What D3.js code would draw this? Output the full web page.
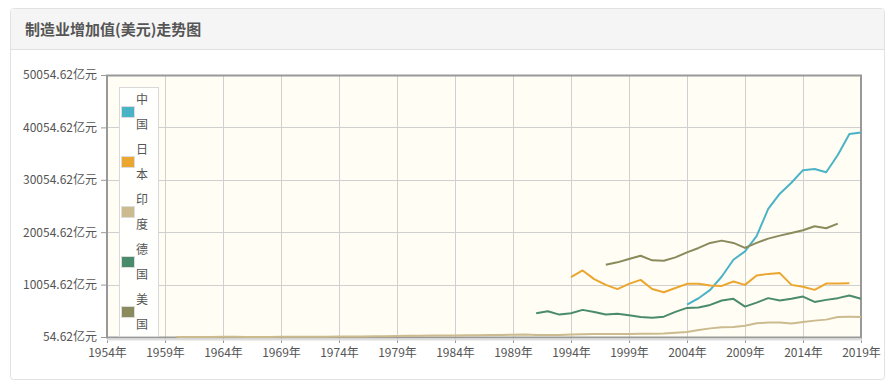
<!DOCTYPE html>
<html>
<head>
<meta charset="utf-8">
<script src="https://cdn.jsdelivr.net/npm/d3@7"></script>
<style>
  body { margin: 0; background: #fff; font-family: "Microsoft YaHei", "Noto Sans CJK SC", sans-serif; }
  svg { display: block; }
</style>
</head>
<body>
<svg id="chart" width="894" height="389"></svg>
<script>
const title = '制造业增加值(美元)走势图';
const countries = ['中国', '日本', '印度', '德国', '美国'];
const colors = ['#4bb3c6', '#eba630', '#cbbb8e', '#4a8b6c', '#898b5c'];
const startYears = [2004, 1994, 1960, 1991, 1997];

const china = [6250, 7450, 9050, 11600, 14800, 16400, 19300, 24500, 27400, 29500, 31900, 32100, 31500, 34800, 38800, 39100];
const japan = [11500, 12750, 11100, 10000, 9200, 10200, 10950, 9200, 8600, 9400, 10200, 10200, 9900, 9800, 10650, 10000, 11800, 12100, 12250, 10000, 9650, 9050, 10250, 10250, 10300];
const india = [56, 60, 64, 72, 84, 86, 70, 73, 78, 85, 92, 99, 103, 118, 144, 158, 163, 182, 213, 234, 290, 310, 320, 340, 345, 380, 400, 430, 460, 470, 510, 430, 450, 440, 520, 600, 620, 640, 620, 650, 690, 680, 720, 850, 1010, 1390, 1700, 1910, 1970, 2220, 2670, 2800, 2800, 2610, 2920, 3180, 3370, 3880, 3900, 3890];
const germany = [4600, 4980, 4330, 4600, 5230, 4840, 4330, 4470, 4200, 3880, 3750, 3940, 4840, 5610, 5680, 6180, 7010, 7340, 5860, 6620, 7470, 7010, 7340, 7770, 6750, 7140, 7470, 7970, 7340];
const usa = [13850, 14300, 14950, 15570, 14680, 14610, 15250, 16200, 17050, 18010, 18450, 18010, 17050, 18010, 18830, 19400, 19900, 20420, 21190, 20800, 21700];
const series = [china, japan, india, germany, usa];

const yearTicks = d3.range(1954, 2020, 5);
const valueTicks = [54.62, 10054.62, 20054.62, 30054.62, 40054.62, 50054.62];

const svg = d3.select('#chart');

// panel
svg.append('rect')
  .attr('x', 10.5).attr('y', 8.5).attr('width', 874).attr('height', 371)
  .attr('rx', 3).attr('fill', '#fff').attr('stroke', '#e2e2e2');
svg.append('rect')
  .attr('x', 11).attr('y', 9).attr('width', 873).attr('height', 40)
  .attr('fill', '#f5f5f6');
svg.append('line')
  .attr('x1', 11).attr('x2', 884).attr('y1', 49.5).attr('y2', 49.5)
  .attr('stroke', '#e0e0e0');
svg.append('text')
  .attr('x', 25).attr('y', 35)
  .attr('font-size', 15).attr('font-weight', 'bold').attr('fill', '#555')
  .text(title);

const x = d3.scaleLinear().domain([1954, 2019]).range([107, 861]);
const y = d3.scaleLinear().domain([54.62, 50054.62]).range([337, 75]);

// plot background
svg.append('rect')
  .attr('x', 107).attr('y', 75).attr('width', 754).attr('height', 262)
  .attr('fill', '#fffdf4');

// grid
svg.append('g').selectAll('line').data(yearTicks.slice(1)).join('line')
  .attr('x1', d => x(d) + 0.5).attr('x2', d => x(d) + 0.5)
  .attr('y1', 75).attr('y2', 337)
  .attr('stroke', '#d0d0d0');
svg.append('g').selectAll('line').data(valueTicks.slice(1, -1)).join('line')
  .attr('x1', 107).attr('x2', 861)
  .attr('y1', d => Math.round(y(d)) + 0.5).attr('y2', d => Math.round(y(d)) + 0.5)
  .attr('stroke', '#d0d0d0');

// axes
const yAxis = svg.append('g')
  .attr('transform', 'translate(106,0)')
  .call(d3.axisLeft(y).tickValues(valueTicks).tickSize(5).tickPadding(4)
    .tickFormat(d => d3.format('.2f')(d) + '亿元'));
yAxis.select('.domain').remove();
yAxis.selectAll('line').attr('stroke', '#999');
yAxis.selectAll('text').attr('font-size', 12).attr('fill', '#555')
  .attr('font-family', '"Microsoft YaHei", "Noto Sans CJK SC", sans-serif');

const xAxis = svg.append('g')
  .attr('transform', 'translate(0,338)')
  .call(d3.axisBottom(x).tickValues(yearTicks).tickSize(5).tickPadding(5)
    .tickFormat(d => d + '年'));
xAxis.select('.domain').remove();
xAxis.selectAll('line').attr('stroke', '#999');
xAxis.selectAll('text').attr('font-size', 12).attr('fill', '#555')
  .attr('font-family', '"Microsoft YaHei", "Noto Sans CJK SC", sans-serif');

// frame
svg.append('rect')
  .attr('x', 107).attr('y', 75.5).attr('width', 754).attr('height', 262)
  .attr('fill', 'none').attr('stroke', '#999').attr('stroke-width', 2);
svg.append('line')
  .attr('x1', 107).attr('x2', 862).attr('y1', 339.5).attr('y2', 339.5)
  .attr('stroke', '#ddd').attr('stroke-width', 2);

// lines
const line = d3.line().x(d => x(d[0])).y(d => y(d[1]));
series.forEach((vals, i) => {
  const pts = vals.map((v, k) => [startYears[i] + k, v]);
  svg.append('path')
    .datum(pts)
    .attr('d', line)
    .attr('fill', 'none')
    .attr('stroke', colors[i])
    .attr('stroke-width', 2)
    .attr('stroke-linejoin', 'round');
});

// legend
const legend = svg.append('g');
legend.append('rect')
  .attr('x', 119.5).attr('y', 87.5).attr('width', 39).attr('height', 249)
  .attr('fill', '#fffffd').attr('stroke', '#d8d8d8');
countries.forEach((c, i) => {
  const top = 100 + i * 50;
  legend.append('rect')
    .attr('x', 121.5).attr('y', top + 6.5).attr('width', 13).attr('height', 11)
    .attr('fill', colors[i]).attr('stroke', '#ddd');
  legend.append('text')
    .attr('x', 142).attr('y', top + 4)
    .attr('text-anchor', 'middle').attr('font-size', 12).attr('fill', '#555')
    .text(c[0]);
  legend.append('text')
    .attr('x', 142).attr('y', top + 29)
    .attr('text-anchor', 'middle').attr('font-size', 12).attr('fill', '#555')
    .text(c[1]);
});
</script>
</body>
</html>
